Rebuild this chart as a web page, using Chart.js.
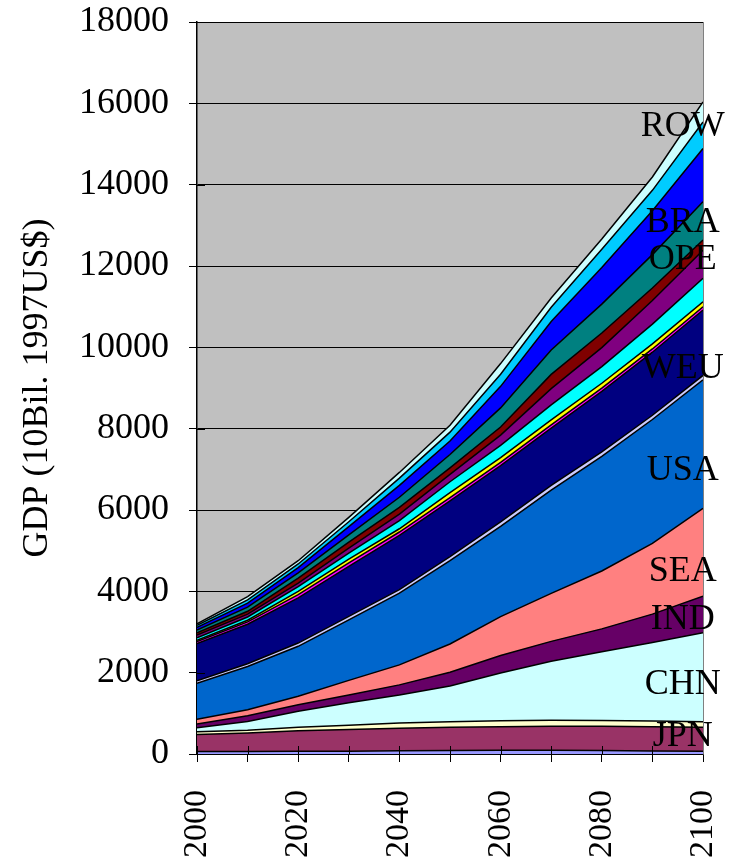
<!DOCTYPE html>
<html>
<head>
<meta charset="utf-8">
<title>GDP by region</title>
<script src="https://cdn.jsdelivr.net/npm/chart.js@4.4.1/dist/chart.umd.min.js"></script>
<style>
    html, body { margin: 0; padding: 0; background: #fff; }
    #wrap { width: 739px; height: 861px; }
</style>
</head>
<body>
<div id="wrap"><canvas id="grafica" width="739" height="861"></canvas></div>
<script>
const years = [2000, 2010, 2020, 2030, 2040, 2050, 2060, 2070, 2080, 2090, 2100];

// layers from the bottom of the stack to the top (10Bil. 1997US$)
const gdpBase  = [60, 60, 65, 70, 80, 85, 90, 90, 85, 75, 65];
const gdpJPN   = [420, 455, 505, 535, 555, 570, 580, 590, 595, 595, 595];
const gdpBand2 = [68, 70, 90, 105, 125, 135, 145, 150, 145, 140, 130];
const gdpCHN   = [99, 215, 390, 550, 690, 880, 1175, 1450, 1692, 1930, 2193];
const gdpIND   = [90, 140, 160, 190, 250, 340, 430, 490, 560, 700, 900];
const gdpSEA   = [116, 148, 210, 360, 491, 695, 960, 1180, 1423, 1740, 2157];
const gdpUSA   = [885, 1062, 1228, 1490, 1763, 2050, 2220, 2540, 2817, 3045, 3159];
const gdpBand7 = [60, 70, 80, 85, 90, 100, 110, 115, 110, 105, 110];
const gdpWEU   = [920, 970, 1110, 1230, 1330, 1370, 1380, 1410, 1490, 1550, 1610];
const gdpBand9 = [50, 60, 80, 85, 85, 80, 80, 80, 80, 80, 80];
const gdpBand10 = [30, 40, 80, 90, 80, 120, 120, 120, 120, 125, 120];
const gdpBand11 = [60, 80, 120, 150, 200, 270, 300, 370, 410, 485, 580];
const gdpBand12 = [65, 70, 85, 120, 160, 180, 250, 400, 465, 580, 690];
const gdpBand13 = [58, 70, 120, 150, 165, 160, 200, 350, 360, 310, 250];
const gdpBand14 = [67, 100, 130, 180, 250, 330, 470, 600, 710, 820, 940];
const gdpBand15 = [65, 100, 130, 200, 290, 330, 530, 700, 900, 1080, 1310];
const gdpBand16 = [50, 80, 90, 120, 180, 220, 300, 350, 450, 500, 655];
const gdpROW   = [35, 80, 80, 110, 140, 170, 260, 230, 250, 330, 490];

const layers = [gdpBase, gdpJPN, gdpBand2, gdpCHN, gdpIND, gdpSEA, gdpUSA, gdpBand7, gdpWEU,
    gdpBand9, gdpBand10, gdpBand11, gdpBand12, gdpBand13, gdpBand14, gdpBand15, gdpBand16, gdpROW];
const layerColors = ['#9999FF', '#993366', '#FFFFCC', '#CCFFFF', '#660066', '#FF8080', '#0066CC', '#CCCCFF',
    '#000080', '#FF00FF', '#FFFF00', '#00FFFF', '#800080', '#800000', '#008080', '#0000FF', '#00CCFF', '#CCFFFF'];

// region names written at the right end of the chart
const labelNames = ['ROW', 'BRA', 'OPE', 'WEU', 'USA', 'SEA', 'IND', 'CHN', 'JPN'];
const labelValues = [15420, 13080, 12150, 9490, 6980, 4475, 3300, 1720, 420];
const labelYear = 2096;

const serif = "'Liberation Serif', 'Times New Roman', serif";

const plotBackground = {
    id: 'plotBackground',
    beforeDraw(chart) {
        const { ctx, chartArea: a } = chart;
        ctx.save();
        ctx.fillStyle = '#C0C0C0';
        ctx.fillRect(a.left, a.top, a.right - a.left, a.bottom - a.top);
        ctx.restore();
    }
};

const innerTicks = {
    id: 'innerTicks',
    afterDatasetsDraw(chart) {
        const { ctx, chartArea: a, scales } = chart;
        ctx.save();
        ctx.strokeStyle = '#000';
        ctx.lineWidth = 1;
        scales.y.ticks.forEach(t => {
            const y = Math.round(scales.y.getPixelForValue(t.value)) + 0.5;
            ctx.beginPath(); ctx.moveTo(a.left, y); ctx.lineTo(a.left + 8, y); ctx.stroke();
        });
        scales.x.ticks.forEach(t => {
            const x = Math.round(scales.x.getPixelForValue(t.value)) + 0.5;
            ctx.beginPath(); ctx.moveTo(x, a.bottom); ctx.lineTo(x, a.bottom - 8); ctx.stroke();
        });
        ctx.strokeStyle = '#808080';
        ctx.beginPath(); ctx.moveTo(a.right + 0.5, a.top); ctx.lineTo(a.right + 0.5, a.bottom); ctx.stroke();
        ctx.restore();
    }
};

const regionLabels = {
    id: 'regionLabels',
    afterDraw(chart) {
        const { ctx, scales } = chart;
        ctx.save();
        ctx.font = '36px ' + serif;
        ctx.fillStyle = '#000';
        ctx.textAlign = 'center';
        ctx.textBaseline = 'middle';
        labelNames.forEach((name, i) => {
            ctx.fillText(name, scales.x.getPixelForValue(labelYear), scales.y.getPixelForValue(labelValues[i]));
        });
        ctx.restore();
    }
};

const datasets = layers.map((values, i) => ({
    data: values.map((v, j) => ({ x: years[j], y: v })),
    backgroundColor: layerColors[i],
    borderColor: '#000',
    borderWidth: 1.5,
    fill: i === 0 ? 'origin' : '-1',
    pointRadius: 0,
    tension: 0
}));

const chart = new Chart(document.getElementById('grafica'), {
    type: 'line',
    data: { datasets },
    options: {
        responsive: false,
        animation: false,
        layout: { padding: { left: 0, right: 36, top: 22, bottom: 0 } },
        plugins: { legend: { display: false }, tooltip: { enabled: false } },
        scales: {
            x: {
                type: 'linear',
                min: 2000,
                max: 2100,
                afterFit: s => {
                    s.height = 107;
                    s.paddingLeft = 0;
                    s.paddingRight = 0;
                },
                ticks: {
                    stepSize: 10,
                    autoSkip: false,
                    minRotation: 90,
                    maxRotation: 90,
                    padding: 28,
                    color: '#000',
                    font: { family: serif, size: 34 },
                    callback: v => (v % 20 === 0 ? String(v) : '')
                },
                grid: { drawOnChartArea: false, tickLength: 8, color: '#000' },
                border: { color: '#000', width: 1.5 }
            },
            y: {
                stacked: true,
                min: 0,
                max: 18000,
                afterFit: s => {
                    s.width = 197;
                    s.paddingTop = 0;
                    s.paddingBottom = 0;
                },
                ticks: {
                    stepSize: 2000,
                    padding: 20,
                    color: '#000',
                    font: { family: serif, size: 36 },
                    callback: v => String(v)
                },
                grid: { color: '#000', lineWidth: 1, tickLength: 8 },
                border: { color: '#000', width: 1.5 },
                title: {
                    display: true,
                    text: 'GDP (10Bil. 1997US$)',
                    color: '#000',
                    font: { family: serif, size: 36 },
                    padding: { top: 16, bottom: 0 }
                }
            }
        }
    },
    plugins: [plotBackground, innerTicks, regionLabels]
});
</script>
</body>
</html>
